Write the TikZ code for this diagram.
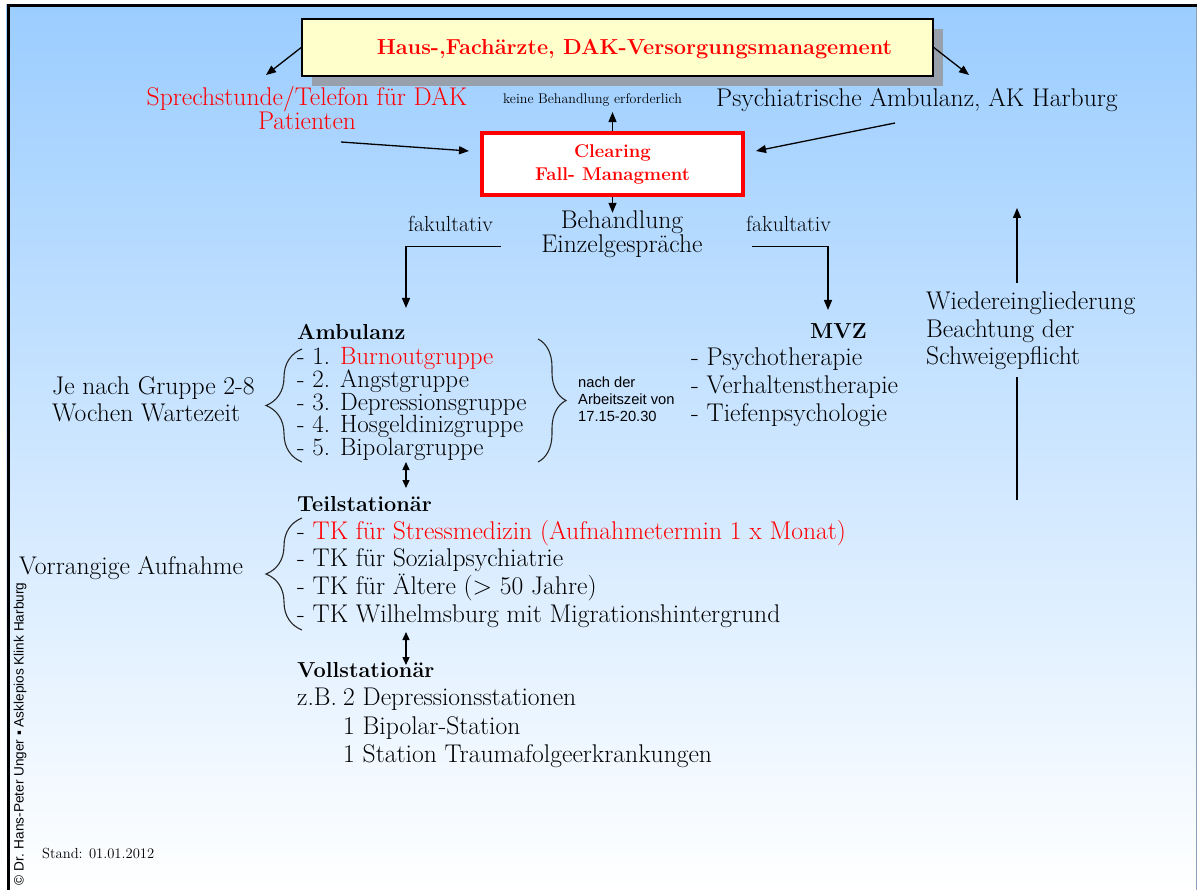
\documentclass[tikz,border=0pt]{standalone}
\usepackage{fontspec}
\newfontfamily\sansf{Liberation Sans}
\usetikzlibrary{arrows.meta,decorations.pathreplacing,calc}
\definecolor{bgtop}{RGB}{155,205,255}
\definecolor{myred}{RGB}{255,0,0}
\definecolor{boxyellow}{RGB}{255,255,204}
\definecolor{shadowgray}{RGB}{152,160,172}
\definecolor{edgegray}{RGB}{140,160,190}
\tikzset{
  txt/.style={inner sep=0pt, anchor=base west, text height=16pt, text depth=4.5pt, font=\fontsize{25.6}{30}\selectfont},
  txtc/.style={inner sep=0pt, anchor=base, text height=16pt, text depth=4.5pt, font=\fontsize{25.6}{30}\selectfont},
  itm/.style={txt, font=\fontsize{25}{30}\selectfont},
  hdr/.style={inner sep=0pt, anchor=base west, font=\bfseries\fontsize{21.7}{26}\selectfont},
  smalltxt/.style={inner sep=0pt, anchor=base west, text height=10pt, text depth=2.5pt, font=\sansf\fontsize{14.7}{17}\selectfont},
  arr/.style={line width=1.3pt, -{Triangle[length=10pt,width=8pt]}},
  darr/.style={line width=1.3pt, {Triangle[length=8pt,width=7pt]}-{Triangle[length=8pt,width=7pt]}},
  plain/.style={line width=1.3pt},
  brc/.style={line width=1.1pt, color=black!85, decorate},
}
\begin{document}
\begin{tikzpicture}[x=1pt,y=-1pt]
\useasboundingbox (0,0) rectangle (1197,890);
\fill[white] (0,0) rectangle (1197,890);
\shade[top color=bgtop, bottom color=white] (6,5) rectangle (1197,890);
\draw[line width=1pt, edgegray] (1196.5,6) -- (1196.5,890);
\draw[line width=3pt, black] (8,890) -- (8,6) -- (1197,6);

% top box with shadow
\fill[shadowgray] (312,29) rectangle (943,86);
\node[draw=black, line width=1.5pt, fill=boxyellow, minimum width=631pt, minimum height=57pt, inner sep=0pt] (top) at (617.5,47.5) {};
\node[inner sep=0pt, anchor=base, font=\bfseries\fontsize{21.7}{26}\selectfont, text=myred] (toptext) at (634.5,55) {Haus-,Fachärzte, DAK-Versorgungsmanagement};
\coordinate (tl) at (266,75);
\coordinate (tr) at (969,75);
\draw[arr] (top.west) -- (tl);
\draw[arr] (top.east) -- (tr);

% second row
\node[txtc, text=myred] (sp1) at (307,106) {Sprechstunde/Telefon für DAK};
\node[txtc, text=myred] (sp2) at (307,130) {Patienten};
\node[txt] (psy) at (716,107) {Psychiatrische Ambulanz, AK Harburg};
\node[inner sep=0pt, anchor=base, font=\fontsize{14}{16}\selectfont] (keine) at (592.5,104) {keine Behandlung erforderlich};

% clearing
\node[draw=myred, line width=4pt, fill=white, minimum width=261pt, minimum height=62pt, align=center, font=\bfseries\fontsize{18.5}{23}\selectfont, text=myred] (clear) at (612.5,164) {Clearing\\Fall- Managment};
\coordinate (spout) at (341,142);
\coordinate (psout) at (895,123);
\draw[arr] (spout) -- ([xshift=-11pt,yshift=13pt]clear.west);
\draw[arr] (psout) -- ([xshift=11pt,yshift=13pt]clear.east);
\draw[arr, shorten >=5pt] (clear.north) -- (clear.north |- keine.south);

% Behandlung
\node[txtc] (beh) at (622,229) {Behandlung};
\node[txtc] (einz) at (622,253) {Einzelgespräche};
\draw[arr] (clear.south) -- (clear.south |- beh.north);

\node[inner sep=0pt, anchor=base, font=\fontsize{21.8}{26}\selectfont] (fakl) at (450.5,232) {fakultativ};
\node[inner sep=0pt, anchor=base, font=\fontsize{21.8}{26}\selectfont] (fakr) at (788.5,232) {fakultativ};
\coordinate (fl) at (406,308);
\coordinate (fr) at (828,310);
\draw[arr] ([xshift=-40pt,yshift=1pt]einz.west) -| (fl);
\draw[arr] ([xshift=49pt,yshift=1pt]einz.east) -| (fr);

% Ambulanz
\node[hdr] (amb) at (297,340) {Ambulanz};
\node[itm] (a1) at (297,365) {- 1. \textcolor{myred}{Burnoutgruppe}};
\node[itm] (a2) at (297,387.6) {- 2. Angstgruppe};
\node[itm] (a3) at (297,410.2) {- 3. Depressionsgruppe};
\node[itm] (a4) at (297,432.8) {- 4. Hosgeldinizgruppe};
\node[itm] (a5) at (297,455.4) {- 5. Bipolargruppe};
\node[txt] (je1) at (52,395) {Je nach Gruppe 2-8};
\node[txt] (je2) at (52,422) {Wochen Wartezeit};
\draw[brc, decoration={brace, amplitude=36pt}] (302,462) -- (302,349);
\draw[brc, decoration={brace, amplitude=28pt}] (538,339) -- (538,462);
\node[smalltxt] (nd1) at (578,388) {nach der};
\node[smalltxt] (nd2) at (578,405) {Arbeitszeit von};
\node[smalltxt] (nd3) at (578,422) {17.15-20.30};

% MVZ
\node[hdr, anchor=base] (mvz) at (838.5,339) {MVZ};
\node[txt] (m1) at (691,366) {- Psychotherapie};
\node[txt] (m2) at (691,394) {- Verhaltenstherapie};
\node[txt] (m3) at (691,422) {- Tiefenpsychologie};

% Wiedereingliederung
\node[txt] (w1) at (926,310) {Wiedereingliederung};
\node[txt] (w2) at (926,338) {Beachtung der};
\node[txt] (w3) at (926,365) {Schweigepflicht};
\coordinate (wb) at (1017,500);
\coordinate (wm1) at (1017,377);
\coordinate (wm2) at (1017,283);
\coordinate (wt) at (1017,208);
\draw[plain] (wb) -- (wm1);
\draw[arr] (wm2) -- (wt);

% Teilstationaer
\coordinate (d1a) at (406,462);
\coordinate (d1b) at (406,488);
\draw[darr] (d1a) -- (d1b);
\node[hdr] (teil) at (297,511) {Teilstationär};
\node[txt] (t1) at (297,539) {- \textcolor{myred}{TK für Stressmedizin (Aufnahmetermin 1 x Monat)}};
\node[txt] (t2) at (297,566) {- TK für Sozialpsychiatrie};
\node[txt] (t3) at (297,594) {- TK für Ältere (> 50 Jahre)};
\node[txt] (t4) at (297,622) {- TK Wilhelmsburg mit Migrationshintergrund};
\draw[brc, decoration={brace, amplitude=36pt}] (302,630) -- (302,518);
\node[txt] (vor) at (19,574) {Vorrangige Aufnahme};

% Vollstationaer
\coordinate (d2a) at (406,632);
\coordinate (d2b) at (406,665);
\draw[darr] (d2a) -- (d2b);
\node[hdr] (voll) at (297,677) {Vollstationär};
\node[txt] (zb) at (297,705) {z.B.};
\node[txt] (v1) at (343,705) {2 Depressionsstationen};
\node[txt] (v2) at (343,734) {1 Bipolar-Station};
\node[txt] (v3) at (343,762) {1 Station Traumafolgeerkrankungen};

% footer
\node[inner sep=0pt, anchor=base west, font=\fontsize{14.6}{17}\selectfont] (stand) at (42,858) {Stand: 01.01.2012};
\node[rotate=90, inner sep=0pt, font=\sansf\fontsize{13.6}{16}\selectfont] (copy) at (20,734) {© Dr. Hans-Peter Unger ▪ Asklepios Klink Harburg};
\end{tikzpicture}
\end{document}
